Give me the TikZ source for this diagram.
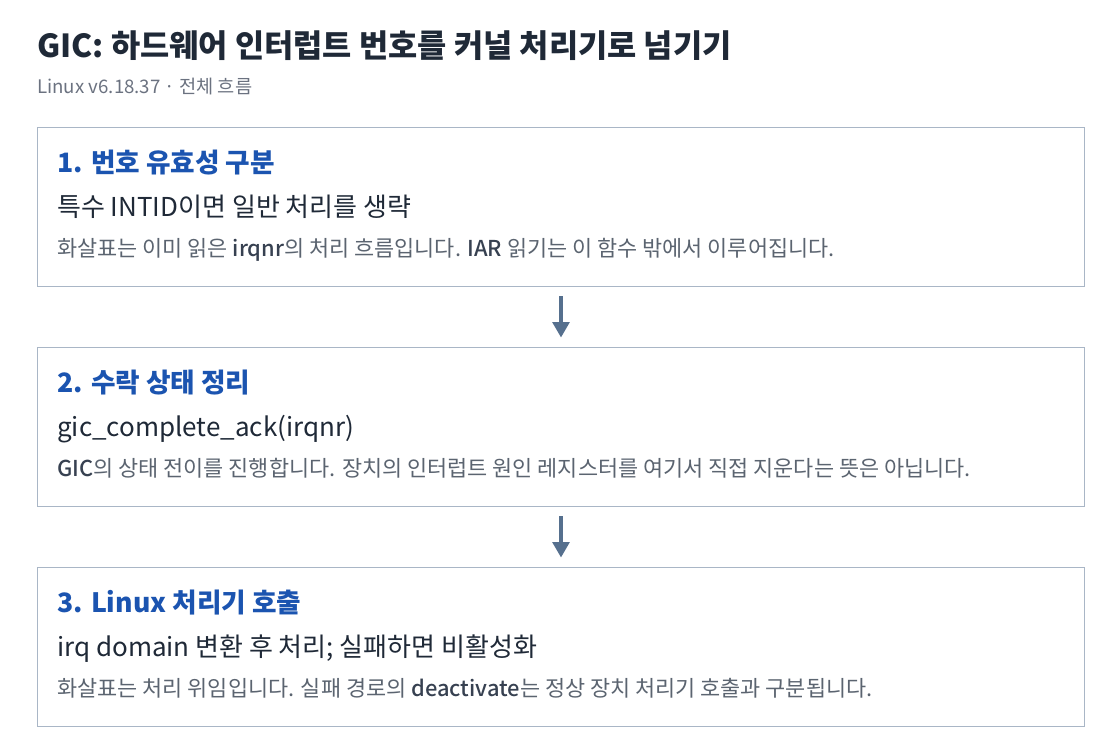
\documentclass[tikz,border=0pt]{standalone}
\usepackage{fontspec}
\setmainfont{Noto Sans CJK KR}
\newfontfamily\krmed{Noto Sans CJK KR Medium}
\usetikzlibrary{arrows.meta}
\definecolor{ttl}{HTML}{1F2937}
\definecolor{sub}{HTML}{6B7280}
\definecolor{blu}{HTML}{1B54B0}
\definecolor{bord}{HTML}{A9B6C6}
\definecolor{arr}{HTML}{56708E}
\definecolor{body}{HTML}{1F2937}
\definecolor{note}{HTML}{5B6470}
\definecolor{notek}{HTML}{374151}
\tikzset{
  stepbox/.style={draw=bord, line width=1.1pt, fill=white},
  hd/.style={anchor=base west, inner sep=0, text=blu, font=\fontsize{20}{24}\selectfont\bfseries},
  main/.style={anchor=base west, inner sep=0, text=body, font=\fontsize{19.5}{23}\selectfont},
  nt/.style={anchor=base west, inner sep=0, text=note, font=\fontsize{16.4}{19}\selectfont},
  flow/.style={draw=arr, line width=2.5pt, -{Triangle[length=11.5pt,width=12.5pt]}},
}
\newcommand{\kk}[1]{{\color{notek}\krmed #1}}
\begin{document}
\begin{tikzpicture}[x=0.75pt,y=-0.75pt]
\useasboundingbox (0,0) rectangle (1120,754);
\node[anchor=base west, inner sep=0, text=ttl, font=\fontsize{23.8}{27}\selectfont\bfseries] (title) at (37,57) {GIC: 하드웨어 인터럽트 번호를 커널 처리기로 넘기기};
\node[anchor=base west, inner sep=0, text=sub, font=\fontsize{14}{17}\selectfont] (subt) at (37,93) {Linux v6.18.37 · 전체 흐름};

\node[stepbox, minimum width=1047*0.75pt, minimum height=159*0.75pt, anchor=north west] (b1) at (37,127) {};
\node[stepbox, minimum width=1047*0.75pt, minimum height=159*0.75pt, anchor=north west] (b2) at (37,347) {};
\node[stepbox, minimum width=1047*0.75pt, minimum height=159*0.75pt, anchor=north west] (b3) at (37,567) {};

\node[hd] (h1) at (57,172) {1. 번호 유효성 구분};
\node[main] (m1) at (57,216) {특수 INTID이면 일반 처리를 생략};
\node[nt] (n1) at (57,256) {화살표는 이미 읽은 \kk{irqnr}의 처리 흐름입니다. \kk{IAR} 읽기는 이 함수 밖에서 이루어집니다.};

\node[hd] (h2) at (57,392) {2. 수락 상태 정리};
\node[main] (m2) at (57,436) {gic\_complete\_ack(irqnr)};
\node[nt] (n2) at (57,476) {\kk{GIC}의 상태 전이를 진행합니다. 장치의 인터럽트 원인 레지스터를 여기서 직접 지운다는 뜻은 아닙니다.};

\node[hd] (h3) at (57,612) {3. Linux 처리기 호출};
\node[main] (m3) at (57,656) {irq domain 변환 후 처리; 실패하면 비활성화};
\node[nt] (n3) at (57,696) {화살표는 처리 위임입니다. 실패 경로의 \kk{deactivate}는 정상 장치 처리기 호출과 구분됩니다.};

\draw[flow] ([yshift=-9*0.75pt]b1.south -| 561,0) -- ([yshift=9.5*0.75pt]b2.north -| 561,0);
\draw[flow] ([yshift=-9*0.75pt]b2.south -| 561,0) -- ([yshift=9.5*0.75pt]b3.north -| 561,0);
\end{tikzpicture}
\end{document}
